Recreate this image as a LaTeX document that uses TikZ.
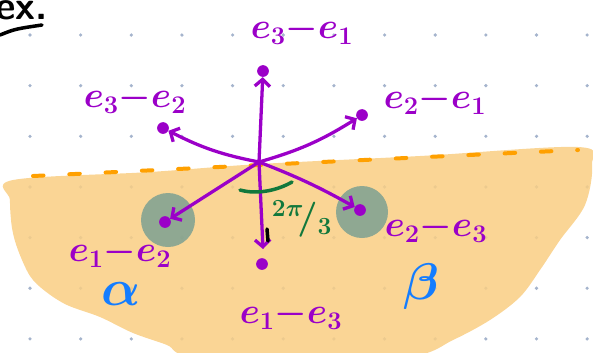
\RequirePackage{fix-cm}
\documentclass[tikz,border=0pt]{standalone}
\usepackage{tikz}
\usetikzlibrary{arrows.meta}
\definecolor{raizmorada}{RGB}{155,0,200}
\definecolor{naranjafondo}{RGB}{249,206,131}
\definecolor{naranjaborde}{RGB}{255,160,0}
\definecolor{verdecamara}{RGB}{116,157,145}
\definecolor{verdeangulo}{RGB}{18,120,60}
\definecolor{azulletra}{RGB}{20,125,255}
\definecolor{puntogris}{RGB}{165,180,205}

\begin{document}
\begin{tikzpicture}[x=0.03cm, y=-0.03cm,
		raiz/.style={draw=raizmorada, line width=2.8pt, line cap=round,
			-{Straight Barb[length=6pt,width=13pt,line width=2.8pt]}},
		punta/.style={circle, fill=raizmorada, inner sep=0pt, minimum size=10pt},
		etiqueta/.style={text=raizmorada, font=\fontsize{31}{34}\selectfont\boldmath},
		letra/.style={text=azulletra, font=\fontsize{44}{48}\selectfont\boldmath}]
		\useasboundingbox (0,0) rectangle (593,352);
		
		% Cuadrícula de puntos
		\foreach \i in {0,...,11}
			\foreach \j in {0,...,6}
				\fill[puntogris] ({30+50.65*\i},{35+50.65*\j}) circle (1.8);
		
		% Región sombreada
		\fill[naranjafondo, fill opacity=0.85] plot[smooth cycle, tension=0.55] coordinates {
			(13,180) (150,172) (260,164) (420,156) (578,147) (592,165)
			(585,205) (560,240) (540,270) (520,297) (490,320) (453,340)
			(413,356) (300,362) (190,356) (167,345) (133,333) (100,317)
			(67,305) (45,291) (30,276) (18,250) (12,228) (10,200)};
		\draw[naranjaborde, line width=3.4pt, line cap=round, dash pattern=on 9pt off 22pt]
			(33,176) .. controls (200,168) and (400,158) .. (578,150);
		
		% Cámaras
		\fill[verdecamara, opacity=0.8] (168,220) circle (27);
		\fill[verdecamara, opacity=0.8] (362,212) circle (26);
		
		% Raíces
		\coordinate (O) at (259,162);
		\node[punta] (r31) at (263,71) {};
		\node[punta] (r21) at (362,115) {};
		\node[punta] (r32) at (163,128) {};
		\node[punta] (r12) at (165,222) {};
		\node[punta] (r23) at (360,210) {};
		\coordinate (r13) at (263,249);
		\node[punta] (p13) at (262,264) {};
		
		\draw[raiz] (O) -- (r31);
		\draw[raiz] (O) to[bend right=8] (r21);
		\draw[raiz] (O) to[bend left=8] (r32);
		\draw[raiz] (O) -- (r12);
		\draw[raiz] (O) to[bend left=4] (r23);
		\draw[raiz] (O) -- (r13);
		
		% Etiquetas
		\node[etiqueta] (l31) at (302,30) {${e_3}{-}{e_1}$};
		\node[etiqueta] (l21) at (435,100) {${e_2}{-}{e_1}$};
		\node[etiqueta] (l32) at (135,99) {${e_3}{-}{e_2}$};
		\node[etiqueta] (l12) at (120,253) {${e_1}{-}{e_2}$};
		\node[etiqueta] (l23) at (436,228) {${e_2}{-}{e_3}$};
		\node[etiqueta] (l13) at (291,315) {${e_1}{-}{e_3}$};
		\node[letra] (alfa) at (121,294) {$\alpha$};
		\node[letra] (beta) at (421,287) {$\beta$};
		
		% Ángulo
		\draw[verdeangulo, line width=3pt, line cap=round]
			(240,190) .. controls (258,195) and (278,190) .. (292,182);
		\node[text=verdeangulo, font=\fontsize{30}{34}\selectfont\boldmath] (ang) at (302,219) {$^{2\pi}\!/_{3}$};
		\draw[line width=3pt, line cap=round] (267,229) -- (268,241);
		
		% Ejemplo
		\node[anchor=base west, font=\fontsize{34}{38}\selectfont\bfseries\sffamily] (ej) at (-9,19) {ex.};
		\draw[line width=3pt, line cap=round] (0,35) .. controls (15,29) .. (42,25);
	\end{tikzpicture}
\end{document}
